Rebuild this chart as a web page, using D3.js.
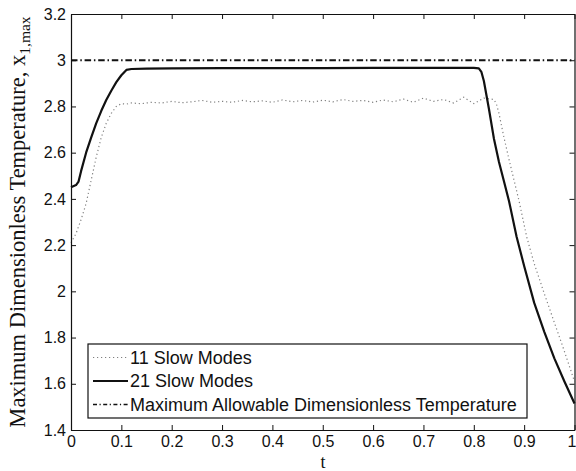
<!DOCTYPE html>
<html><head><meta charset="utf-8">
<script src="https://cdn.jsdelivr.net/npm/d3@7"></script>
<style>body{margin:0;background:#fff}svg{display:block}</style>
</head><body><svg id="c" width="576" height="471"></svg>
<script>
const tDotted = [0,0.01,0.02,0.03,0.04,0.05,0.06,0.07,0.08,0.09,0.10,0.11,0.12,0.14,0.16,0.18,0.20,0.22,0.24,0.26,0.28,0.30,0.32,0.34,0.36,0.38,0.40,0.42,0.44,0.46,0.48,0.50,0.52,0.54,0.56,0.58,0.60,0.62,0.64,0.66,0.68,0.70,0.72,0.74,0.76,0.78,0.80,0.82,0.84,0.845,0.85,0.86,0.87,0.88,0.89,0.905,0.92,0.94,0.96,0.98,1.00];
const vDotted = [2.21,2.25,2.31,2.38,2.48,2.58,2.665,2.727,2.77,2.80,2.812,2.81,2.815,2.812,2.818,2.815,2.822,2.816,2.82,2.826,2.818,2.822,2.818,2.826,2.82,2.824,2.818,2.828,2.82,2.826,2.819,2.827,2.82,2.83,2.822,2.826,2.818,2.828,2.82,2.832,2.818,2.836,2.822,2.83,2.815,2.84,2.812,2.836,2.83,2.81,2.77,2.665,2.57,2.48,2.39,2.236,2.12,1.99,1.865,1.74,1.61];
const tSolid = [0,0.01,0.015,0.02,0.03,0.04,0.05,0.06,0.07,0.08,0.09,0.10,0.11,0.12,0.15,0.2,0.3,0.4,0.5,0.6,0.7,0.8,0.81,0.815,0.82,0.83,0.84,0.85,0.86,0.87,0.885,0.90,0.92,0.94,0.96,0.98,1.0];
const vSolid = [2.45,2.46,2.475,2.52,2.60,2.665,2.727,2.78,2.828,2.868,2.905,2.935,2.958,2.962,2.964,2.965,2.966,2.966,2.966,2.967,2.967,2.967,2.965,2.95,2.91,2.79,2.66,2.56,2.475,2.39,2.236,2.11,1.95,1.825,1.71,1.61,1.515];
const limitValue = 3;
const xTicks = [0,0.1,0.2,0.3,0.4,0.5,0.6,0.7,0.8,0.9,1];
const yTicks = [1.4,1.6,1.8,2,2.2,2.4,2.6,2.8,3,3.2];
const legendLabels = ["11 Slow Modes","21 Slow Modes","Maximum Allowable Dimensionless Temperature"];

const svg = d3.select("#c");
const L = 71, R = 574.5, T = 14, B = 430;
const x = d3.scaleLinear().domain([0,1]).range([L,R]);
const y = d3.scaleLinear().domain([1.4,3.2]).range([B,T]);
const sans = "'Liberation Sans', Arial, sans-serif";
const serif = "'Liberation Serif', 'Times New Roman', serif";

svg.append("rect").attr("width",576).attr("height",471).attr("fill","#fff");

const line = d3.line().x(d=>x(d[0])).y(d=>y(d[1]));

// limit line
svg.append("path").attr("d", line([[0,limitValue],[1,limitValue]]))
  .attr("stroke","#111").attr("stroke-width",2).attr("fill","none")
  .attr("stroke-dasharray","6.5,2.8,1.5,2.8");

// dotted 11 modes
svg.append("path").attr("d", line(tDotted.map((t,i)=>[t,vDotted[i]])))
  .attr("stroke","#808080").attr("stroke-width",1.2).attr("fill","none")
  .attr("stroke-dasharray","1.2,2.8");

// solid 21 modes
svg.append("path").attr("d", line(tSolid.map((t,i)=>[t,vSolid[i]])))
  .attr("stroke","#111").attr("stroke-width",2.2).attr("fill","none")
  .attr("stroke-linejoin","round");

// axes
function styleAxis(g){
  g.select(".domain").attr("stroke","#111").attr("stroke-width",1.2);
  g.selectAll(".tick line").attr("stroke","#111").attr("stroke-width",1);
  g.selectAll("text").attr("font-family",sans).attr("font-size",16).attr("fill","#111");
}
const gx = svg.append("g").attr("transform",`translate(0,${B})`)
  .call(d3.axisBottom(x).tickValues(xTicks).tickFormat(d3.format("")).tickSizeInner(-5).tickSizeOuter(0).tickPadding(6))
  .call(styleAxis);
gx.selectAll(".tick text").filter(d=>d===1).attr("dx",-3);
svg.append("g").attr("transform",`translate(0,${T})`)
  .call(d3.axisTop(x).tickValues(xTicks).tickFormat("").tickSizeInner(-5).tickSizeOuter(0))
  .call(styleAxis);
svg.append("g").attr("transform",`translate(${L},0)`)
  .call(d3.axisLeft(y).tickValues(yTicks).tickFormat(d3.format("")).tickSizeInner(-5).tickSizeOuter(0).tickPadding(5))
  .call(styleAxis);
svg.append("g").attr("transform",`translate(${R},0)`)
  .call(d3.axisRight(y).tickValues(yTicks).tickFormat("").tickSizeInner(-5).tickSizeOuter(0))
  .call(styleAxis);

// axis labels
svg.append("text").attr("x",323).attr("y",467.5).attr("text-anchor","middle")
  .attr("font-family",serif).attr("font-size",18).attr("fill","#111").text("t");
const yl = svg.append("text").attr("transform",`translate(25,${(T+B)/2}) rotate(-90)`)
  .attr("text-anchor","middle").attr("font-family",serif).attr("font-size",22.5).attr("fill","#111");
yl.append("tspan").text("Maximum Dimensionless Temperature, x");
yl.append("tspan").attr("font-size",15.5).attr("dy",5).text("1,max");

// legend
const lg = svg.append("g");
lg.append("rect").attr("x",88).attr("y",344).attr("width",439).attr("height",74)
  .attr("fill","#fff").attr("stroke","#111").attr("stroke-width",1.2);
const rowY = [357.5, 381, 404.5];
const styles = [
  {stroke:"#808080",w:1.2,dash:"1.2,2.8"},
  {stroke:"#111",w:2.2,dash:null},
  {stroke:"#111",w:1.5,dash:"4,2.5,1.2,2.5"}
];
legendLabels.forEach((lab,i)=>{
  lg.append("line").attr("x1",93).attr("x2",128).attr("y1",rowY[i]).attr("y2",rowY[i])
    .attr("stroke",styles[i].stroke).attr("stroke-width",styles[i].w)
    .attr("stroke-dasharray",styles[i].dash);
  lg.append("text").attr("x",130).attr("y",rowY[i]+6.3).attr("font-family",sans)
    .attr("font-size",18).attr("fill","#111").text(lab);
});
</script></body></html>
